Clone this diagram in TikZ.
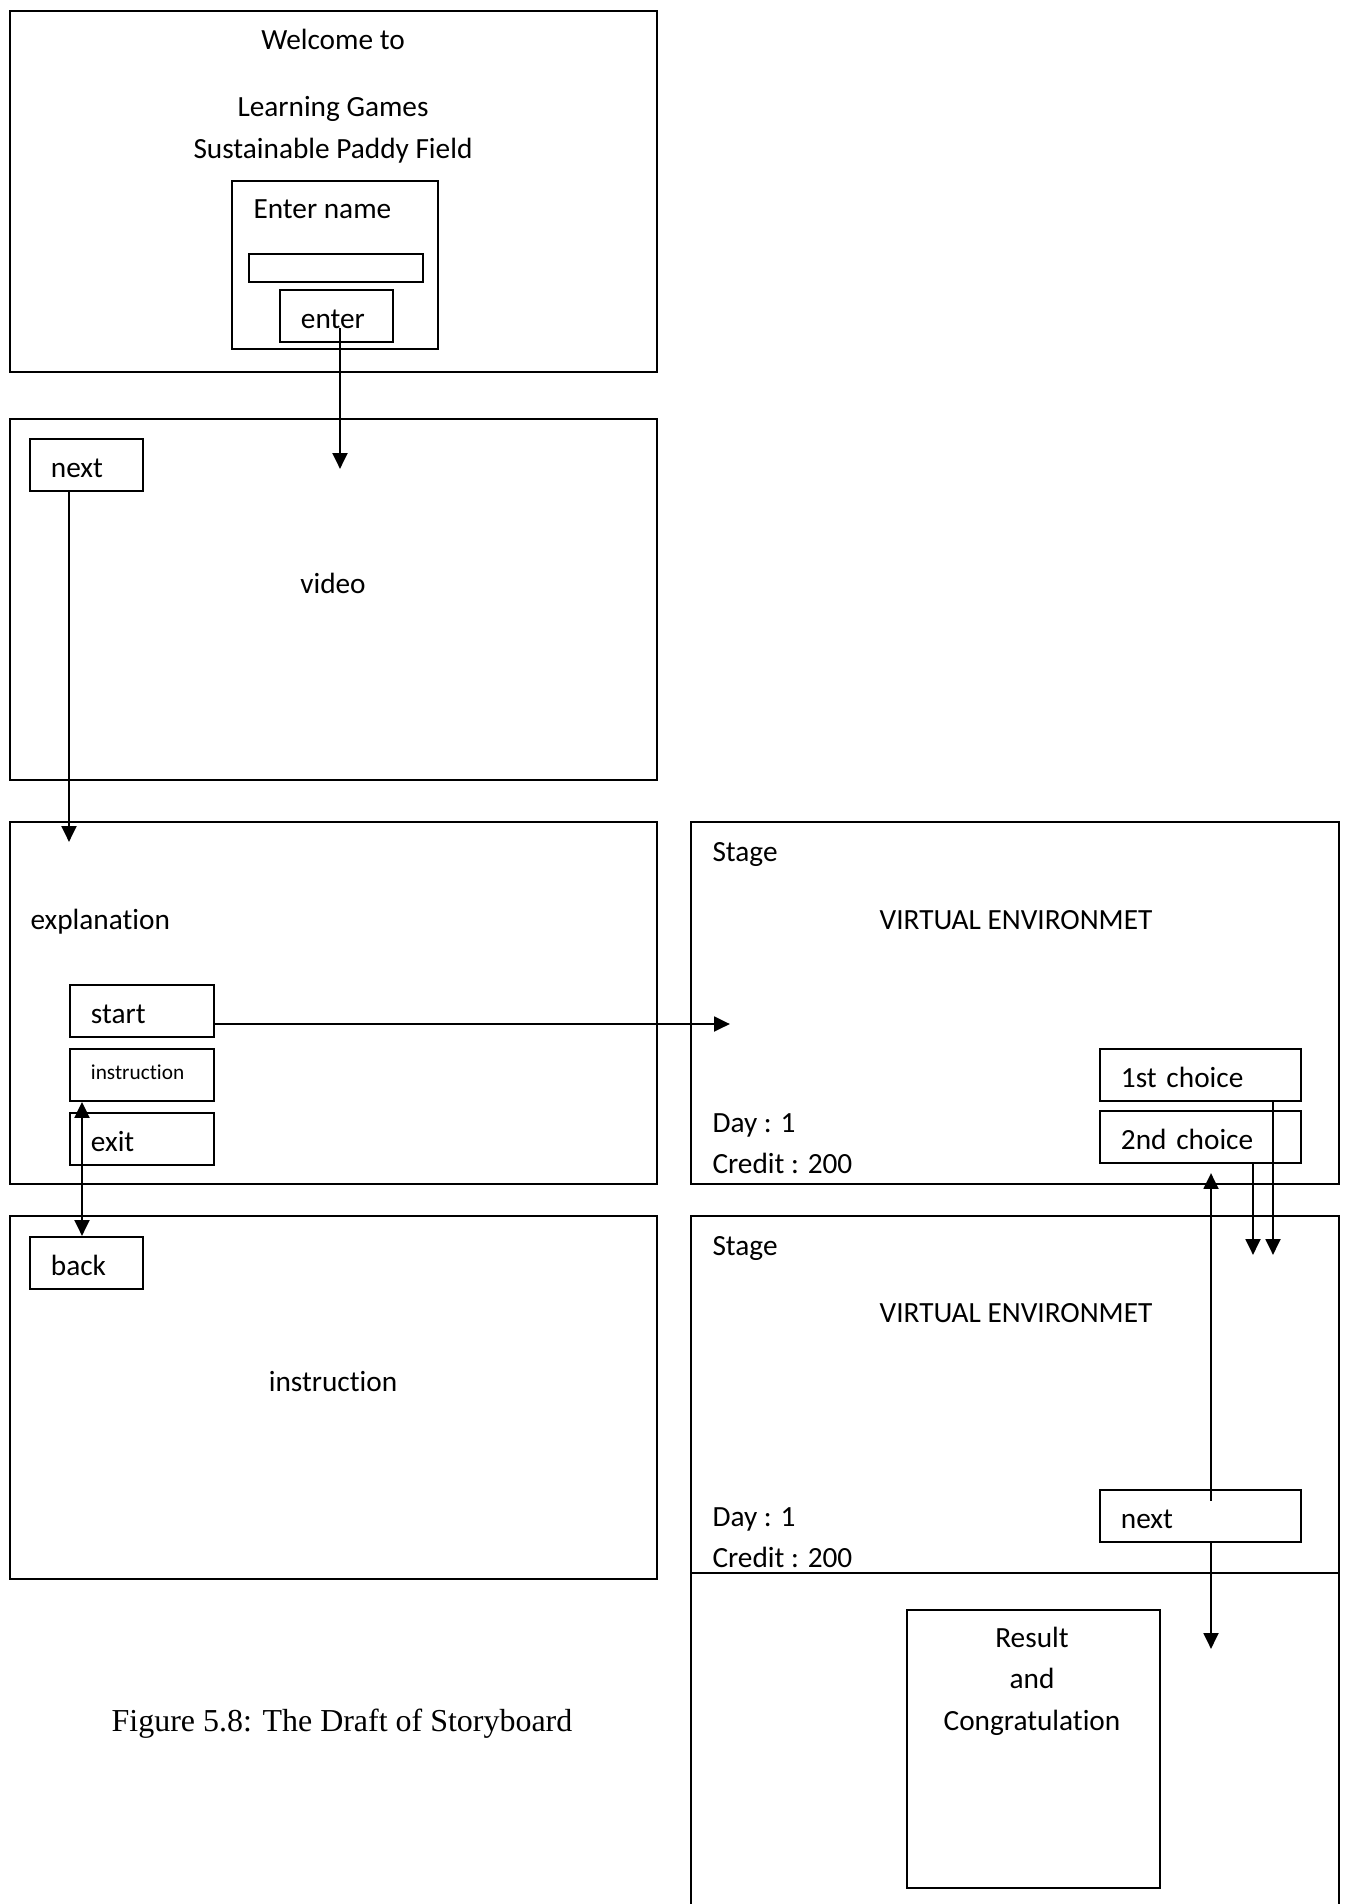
\documentclass[tikz,border=0pt]{standalone}
\usepackage{fontspec}
\setmainfont[Ligatures=NoCommon]{Carlito}
\newfontfamily\captionfont{Liberation Serif}
\usetikzlibrary{arrows.meta,calc}
\begin{document}
\begin{tikzpicture}
% Storyboard draft, positions in pixels of the sketch
\def\pxsz{0.3755pt}
\providecommand{\sbLineColor}{black}
\providecommand{\sbFrameWidth}{0.7pt}
\providecommand{\sbArrowWidth}{1.1pt}
\tikzset{
  frame/.style={draw=\sbLineColor, line width=\sbFrameWidth},
  txt/.style={inner sep=0pt, font=\fontsize{11}{13}\selectfont},
  btn/.style={frame, anchor=north west, minimum width=#1*\pxsz, text width=#1*\pxsz-42*\pxsz,
    minimum height=52*\pxsz, inner xsep=21*\pxsz, inner ysep=0pt, align=left,
    text height=9.4pt, text depth=0pt, font=\fontsize{11}{13}\selectfont},
  smallbtn/.style={font=\fontsize{8}{10}\selectfont, text height=3.75pt},
  flow/.style={draw=\sbLineColor, line width=\sbArrowWidth, -{Triangle[length=6pt,width=5.5pt]}},
  both/.style={flow, {Triangle[length=6pt,width=5.5pt]}-{Triangle[length=6pt,width=5.5pt]}},
}
\begin{scope}[x=\pxsz, y=-\pxsz, line cap=rect]
  \useasboundingbox (0,0) rectangle (1347,1904);
  % Welcome screen
  \draw[frame] (10,11) rectangle (657,372);
  \node[txt, anchor=base] (welcome) at (333,49) {Welcome to};
  \node[txt, anchor=base] (gametitle) at (333,116) {Learning Games};
  \node[txt, anchor=base] (gamesub) at (333,158) {Sustainable Paddy Field};
  \draw[frame] (232,181) rectangle (438,349);
  \node[txt, anchor=base west] (entername) at (253,218) {Enter name};
  \draw[frame] (249,254) rectangle (423,282);
  \node[btn=113] (enterbtn) at (279,289) {enter};
  % Video screen
  \draw[frame] (10,419) rectangle (657,780);
  \node[btn=113] (nextvid) at (29,438) {next};
  \node[txt, anchor=base] (video) at (333,593) {video};
  \coordinate (videoin) at (340,469);
  \draw[flow] ($(enterbtn.center -| videoin)+(0,14)$) -- (videoin);
  % Explanation screen
  \draw[frame] (10,822) rectangle (657,1184);
  \coordinate (explin) at (69,842);
  \draw[flow] (nextvid.south -| explin) -- (explin);
  \node[txt, anchor=base west] (explain) at (30,929) {explanation};
  \node[btn=144] (startbtn) at (69,984) {start};
  \node[btn=144, smallbtn] (instrbtn) at (69,1048) {instruction};
  \node[btn=144] (exitbtn) at (69,1112) {exit};
  % First stage screen
  \draw[frame] (691,822) rectangle (1339,1184);
  \node[txt, anchor=base west] (stageA) at (712,861) {Stage};
  \node[txt, anchor=base] (virtA) at (1016,929) {VIRTUAL ENVIRONMET};
  \node[btn=201] (choiceA) at (1099,1048) {1st choice};
  \node[btn=201] (choiceB) at (1099,1110) {2nd choice};
  \node[txt, anchor=base west] (dayA) at (712,1132) {Day : 1};
  \node[txt, anchor=base west] (creditA) at (712,1173) {Credit : 200};
  \coordinate (stagein) at (730,1024);
  \draw[flow] (startbtn.east |- stagein) -- (stagein);
  % Instruction screen
  \draw[frame] (10,1216) rectangle (657,1579);
  \node[btn=113] (backbtn) at (29,1236) {back};
  \node[txt, anchor=base] (instr) at (333,1391) {instruction};
  \coordinate (instrlink) at (82,1236);
  \draw[both] (instrbtn.south -| instrlink) -- (backbtn.north -| instrlink);
  % Second stage screen and result
  \draw[frame] (691,1910) -- (691,1216) -- (1339,1216) -- (1339,1910);
  \draw[frame] (691,1573) -- (1339,1573);
  \node[txt, anchor=base west] (stageB) at (712,1255) {Stage};
  \node[txt, anchor=base] (virtB) at (1016,1322) {VIRTUAL ENVIRONMET};
  \node[txt, anchor=base west] (dayB) at (712,1526) {Day : 1};
  \node[txt, anchor=base west] (creditB) at (712,1567) {Credit : 200};
  \node[btn=201] (nextstage) at (1099,1489) {next};
  \coordinate (pickA) at (1273,1255);
  \coordinate (pickB) at (1253,1255);
  \draw[flow] (choiceA.south -| pickA) -- (pickA);
  \draw[flow] (choiceB.south -| pickB) -- (pickB);
  \coordinate (backup) at (1211,1173);
  \draw[flow] ($(nextstage.north -| backup)+(0,11)$) -- (backup);
  \coordinate (resultin) at (1211,1649);
  \draw[flow] (nextstage.south -| backup) -- (resultin);
  \node[frame, anchor=north west, minimum width=253*\pxsz, minimum height=278*\pxsz] (resultbox) at (906,1609) {};
  \node[txt, anchor=base] (result) at (1032,1647) {Result};
  \node[txt, anchor=base] (resand) at (1032,1688) {and};
  \node[txt, anchor=base] (congrats) at (1032,1730) {Congratulation};
  % Caption
  \node[inner sep=0pt, anchor=base, font=\captionfont\fontsize{12}{14}\selectfont] (caption) at (342,1731) {Figure 5.8: The Draft of Storyboard};
\end{scope}
\end{tikzpicture}
\end{document}
